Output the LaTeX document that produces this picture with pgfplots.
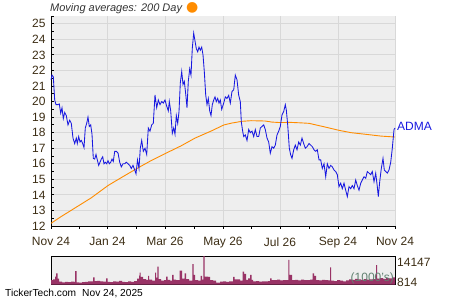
\documentclass[border=0pt]{standalone}
\usepackage{pgfplots}
\pgfplotsset{compat=1.18}
\usepackage{fontspec}
\setmainfont{Liberation Sans}
\newfontfamily\dejavu{DejaVu Sans}
\definecolor{bggray}{RGB}{238,238,238}
\definecolor{gridgray}{RGB}{216,216,216}
\definecolor{lblbrown}{RGB}{60,45,20}
\definecolor{priceblue}{RGB}{24,24,224}
\definecolor{maorange}{RGB}{255,140,0}
\definecolor{volmaroon}{RGB}{153,51,102}
\definecolor{volgreen}{RGB}{96,128,112}
\begin{document}
\begin{tikzpicture}[x=1bp,y=1bp]
\path[use as bounding box] (0,0) rectangle (450,300);
\begin{axis}[
  at={(51bp,74bp)}, anchor=south west,
  scale only axis, width=344bp, height=210bp,
  xmin=0, xmax=344, ymin=12, ymax=25.5,
  axis x line*=bottom, axis y line*=left,
  axis line style={black, line width=0.9bp, -},
  axis background/.style={fill=bggray},
  xtick={0,56.5,114,172,229,287,344},
  xticklabels={Nov 24,Jan 24,Mar 26,May 26,Jul 26,Sep 24,Nov 24},
  minor xtick={28,85,143,200,258,315},
  ytick={12,13,...,25},
  minor ytick={12.5,13.5,...,25.5},
  tick align=inside,
  major tick length=2.5bp, minor tick length=2.5bp,
  tick style={black, line width=0.8bp},
  x tick style={yshift=-2.5bp},
  xmajorgrids, ymajorgrids,
  major grid style={gridgray, line width=0.8bp},
  /pgf/number format/assume math mode=true,
  ticklabel style={font=\fontsize{12bp}{14bp}\selectfont, text=lblbrown},
  xticklabel style={yshift=-8bp},
  yticklabel style={xshift=-2bp},
  clip=false,
]
\addplot[maorange, line width=0.9bp] coordinates {
(0,12.17) (10,12.6) (20,13.0) (30,13.4) (40,13.8) (57,14.6) (70,15.1) (86,15.7)
(100,16.2) (114,16.65) (130,17.15) (144,17.65) (160,18.1) (173,18.5) (181,18.62)
(191,18.73) (200,18.77) (214,18.75) (221,18.68) (229,18.65) (240,18.66) (250,18.63)
(258,18.6) (275,18.35) (288,18.15) (300,18.0) (314,17.9) (330,17.78) (344,17.72)
};
\addplot[priceblue, line width=0.85bp] coordinates {
(0,21.4) (1,21.7) (2.3,21.6) (3.7,20.1) (5,19.8) (7,19.8) (8.3,19.85) (9.7,19.25)
(11,19.6) (12.3,18.9) (13.7,19.3) (15.3,19.1) (17,18.5) (18.7,18.8) (20.3,18.6)
(22,17.65) (23.7,17.3) (25.3,17.65) (26.3,17.3) (27.7,17.75) (29,17.4) (30.3,17.5)
(31.7,17.3) (33,17.04) (34.3,18.3) (35.7,18.6) (37,19.0) (38.3,18.4) (39.7,18.5)
(41,17.9) (42.3,16.35) (43.7,16.3) (45,16.6) (46.3,16.25) (47.7,15.9) (49,16.1)
(50.3,16.3) (51.7,16.45) (53,16.0) (54.3,16.1) (55.7,16.0) (57,16.2) (58.3,16.0)
(59.7,16.1) (61,16.3) (62.3,16.15) (63.7,16.8) (65.3,16.8) (67,16.7) (68.7,16.1)
(70.3,15.8) (72,16.0) (73.7,16.0) (75.3,16.1) (77,16.0) (78.7,15.9) (80.3,15.7)
(82,15.9) (83.7,15.6) (85,15.35) (86.5,16.25) (88,15.7) (89.3,17.0) (90.7,17.5)
(92.3,16.8) (94,17.0) (95.7,16.6) (97.3,18.3) (99,18.1) (100.7,18.5) (102.3,18.6)
(104,20.43) (105.7,19.6) (107.3,20.1) (109,19.8) (110.7,20.0) (112.3,19.9) (114,20.1)
(115.7,19.7) (117.3,19.4) (118.3,20.0) (119.7,19.4) (121.3,17.96) (122.7,18.3)
(124,17.9) (125.3,19.1) (126.7,18.6) (128,19.35) (129.3,21.2) (130.7,21.93)
(132,21.1) (133.3,21.3) (134.7,20.5) (136,19.6) (137.3,21.3) (138.7,22.1) (140,21.7)
(141.3,23.43) (142.7,24.4) (144,23.9) (145.3,23.4) (146.7,23.2) (148,23.5)
(149.3,23.3) (150.7,23.5) (152,23.0) (153.3,21.93) (154.7,20.43) (156,19.8)
(157.3,20.2) (158.7,19.4) (160,19.1) (161.3,19.8) (162.7,20.1) (164,20.3) (165.3,20.0)
(166.7,20.2) (168,19.9) (169.3,20.1) (170.7,19.5) (172.7,19.9) (174.3,20.3) (176,20.2)
(177.7,20.4) (179.3,19.9) (181,20.65) (182.7,20.75) (184.3,21.7) (186,21.4)
(187.7,20.4) (189.3,20.0) (190.3,18.7) (191.7,18.08) (192.7,17.75) (194.3,17.85)
(196,17.5) (197.7,18.2) (199.3,18.0) (201,18.1) (202.7,17.75) (204.3,18.2) (206,17.75)
(207.7,17.75) (209.3,18.3) (211,18.4) (212.7,18.5) (214.3,18.2) (216,17.65)
(217.7,17.4) (219.3,16.68) (221,17.1) (222.7,17.0) (224.3,17.2) (226,17.85)
(227.7,18.1) (229.3,18.4) (231,19.15) (232.7,19.36) (234.3,19.8) (235.3,19.46)
(236.7,18.5) (238.3,17.0) (239.7,16.57) (241,16.35) (242.7,16.9) (244.3,17.2)
(246,16.9) (247.7,17.4) (249.3,17.2) (251,17.65) (252.7,17.3) (254.3,17.0) (256,17.1)
(258,17.3) (259.7,17.2) (261.3,17.1) (263,16.9) (264.7,16.8) (266.3,16.9) (268,16.25)
(269.7,16.25) (271.3,15.7) (273,16.0) (274.7,15.17) (276.3,16.0) (278,15.7)
(279.7,15.9) (281.3,15.8) (283,15.6) (284.7,15.5) (286.3,15.3) (288,14.53)
(289.7,14.75) (291.3,14.4) (293,14.75) (294.7,14.3) (296.3,13.89) (298,14.53)
(299.7,14.4) (301.3,14.6) (303,14.4) (304.7,14.96) (306.3,14.6) (308,14.3)
(309.7,14.75) (311.3,14.96) (313,15.17) (314.7,15.07) (316.3,15.5) (318,15.4)
(319.7,15.3) (321.3,15.5) (323,14.85) (324.7,15.4) (326.3,14.53) (327.3,13.89)
(328.7,14.85) (330.3,15.7) (332,16.35) (333.3,15.6) (334.7,15.5) (336.3,15.4)
(338,15.6) (339.7,16.1) (341.3,17.0) (343,18.2) (344,18.3)
};
\node[anchor=west, text=priceblue, font=\fontsize{12bp}{14bp}\selectfont, inner sep=0pt] at (axis cs:346,18.4) {ADMA};
\end{axis}
\begin{axis}[
  at={(51bp,15.3bp)}, anchor=south west,
  scale only axis, width=344bp, height=28.7bp,
  xmin=0, xmax=344, ymin=0, ymax=14147,
  axis background/.style={fill=bggray},
  axis line style={black, line width=0.9bp},
  xtick=\empty, ytick=\empty,
  clip=true,
]
\addplot[const plot, fill=volmaroon, draw=none] coordinates {
(0,2200) (2,2600) (4,4000) (5,5600) (6.5,3000) (8,1500) (11,1200) (14,1400) (17,1300)
(20,1500) (23,1400) (24,6700) (25.5,1200) (28,1000) (31,1300) (34,1400) (37,1600)
(40,1700) (42,3600) (43.5,1800) (46,1900) (49,1700) (52,1500) (55,3100) (56.5,1400)
(59,1300) (62,1600) (65,1500) (68,1900) (71,1400) (74,1300) (77,1600) (80,1400)
(83,1800) (86,3000) (88,4500) (88.7,5900) (89.5,3800) (92,2800) (95,2400) (97,4300)
(98,2500) (101,2000) (104,5900) (105,3500) (106.3,8900) (107.5,2800) (110,2000)
(113,2200) (115,4000) (116.5,2400) (119,2000) (121,4800) (122.5,2500) (125,2200)
(128.5,6900) (131,3000) (133.7,5600) (135,2800) (138,2000) (141.3,10200) (142.5,4800)
(144,2200) (147,2000) (149.7,4300) (151,2500) (152.3,14147) (153.5,4000) (157,3800)
(159,2300) (162,2000) (165,1000) (169,1500) (172,1600) (175,1400) (178,1700)
(182,3900) (183.5,2600) (186,2600) (189,2000) (191.7,6400) (193,5300) (195,2400)
(197,3100) (199,4900) (200.5,2400) (202,1700) (205,1800) (208,1500) (211,1700)
(214,1600) (217,1800) (219,3100) (220.5,2300) (223,2200) (226,2500) (229,2100)
(232,2300) (235,2200) (237.3,12200) (238.3,4800) (241,2300) (244,2400) (247,2100)
(250,2500) (253,2200) (256,2300) (259,2500) (261.7,5600) (263,4300) (265,2300)
(268,2100) (271,2400) (274,2200) (277,2100) (279,8500) (280,2000) (283,1800)
(286,2200) (289,2000) (292,1700) (295,2100) (298,2600) (301,2400) (304,2900)
(307,2600) (310,2400) (313,2700) (316,2500) (319,2600) (322,2800) (325,9700)
(326,3000) (329,3200) (332,2900) (335,3300) (338,3100) (341,3600) (344,3600)
} \closedcycle;
\node[anchor=south east, text=volgreen, font=\fontsize{12bp}{13bp}\selectfont, inner sep=1bp] at (rel axis cs:1,0) {(1000's)};
\end{axis}
\node[anchor=west, text=lblbrown, font=\fontsize{12bp}{14bp}\selectfont, inner sep=0pt] at (397,37.5) {14147};
\node[anchor=west, text=lblbrown, font=\fontsize{12bp}{14bp}\selectfont, inner sep=0pt] at (397,18) {814};
\node[anchor=west, text={rgb,255:red,51;green,51;blue,51}, font=\fontsize{11bp}{13bp}\selectfont\itshape, inner sep=0pt] at (50,292) {Moving averages: 200 Day\hspace{4bp}{\dejavu\fontsize{14bp}{14bp}\selectfont\textcolor{maorange}{●}}};
\node[anchor=west, text=black, font=\fontsize{10.2bp}{12bp}\selectfont, inner sep=0pt] at (5,6.7) {TickerTech.com\hspace{6bp}Nov 24, 2025};
\end{tikzpicture}
\end{document}
